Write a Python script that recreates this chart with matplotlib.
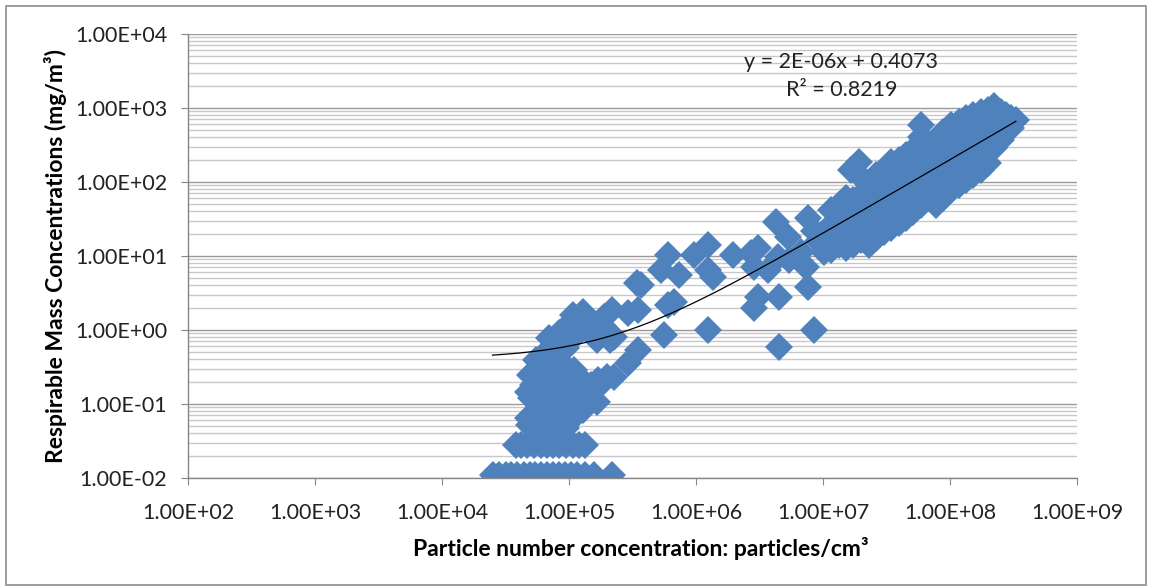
import numpy as np
import matplotlib
matplotlib.use("Agg")
from matplotlib import pyplot as plt
from matplotlib.ticker import LogLocator, FuncFormatter, NullFormatter
from matplotlib.patches import Rectangle

plt.rcParams['font.family'] = ['Lato', 'DejaVu Sans']

# trend line printed on the chart
TREND_SLOPE = 2e-06
TREND_INTERCEPT = 0.4073
R_SQUARED = 0.8219

# points sitting on the detection floor
floor_x = [2.5e4, 2.8e4, 3.2e4, 3.5e4, 3.9e4, 4.4e4, 4.9e4, 5.4e4, 6.0e4, 6.7e4,
           7.5e4, 8.3e4, 9.3e4, 1.04e5, 1.16e5, 1.34e5, 1.57e5, 2.2e5]
floor_y = [0.011, 0.011, 0.011, 0.011, 0.011, 0.011, 0.011, 0.011, 0.011, 0.011,
           0.011, 0.011, 0.011, 0.011, 0.011, 0.011, 0.011, 0.011]

row2_x = [3.8e4, 4.2e4, 4.7e4, 5.3e4, 6.0e4, 6.7e4, 7.5e4, 8.3e4, 9.4e4, 1.07e5, 1.2e5, 1.34e5]
row2_y = [0.028, 0.028, 0.028, 0.028, 0.028, 0.028, 0.028, 0.028, 0.028, 0.028, 0.028, 0.028]

# low-number column, 5e4 - 1e5
low_x = [4.8e4, 6.0e4, 7.5e4, 9.5e4, 5.4e4, 7.0e4, 8.6e4, 1.07e5, 5.0e4, 6.5e4,
         8.1e4, 9.6e4, 5.2e4, 6.7e4, 8.3e4, 5.8e4, 7.5e4, 9.3e4, 5.5e4, 7.0e4,
         8.6e4, 6.6e4, 4.75e4, 4.75e4, 4.9e4, 6.2e4, 7.8e4, 5.6e4, 7.2e4, 9.0e4,
         6.2e4, 8.0e4, 6.4e4, 8.0e4, 9.8e4, 9.0e4, 6.6e4,
         1.24e5, 1.49e5, 1.41e5, 1.29e5, 1.66e5, 1.69e5, 2.26e5, 2.9e5, 3.5e5,
         2.1e5, 1.09e5, 1.15e5, 2.0e5, 1.69e5]
low_y = [0.052, 0.047, 0.052, 0.047, 0.078, 0.071, 0.083, 0.065, 0.12, 0.113,
         0.13, 0.106, 0.18, 0.164, 0.2, 0.27, 0.29, 0.25, 0.39, 0.42,
         0.37, 0.5, 0.065, 0.145, 0.25, 0.095, 0.1, 0.14, 0.15, 0.16,
         0.22, 0.23, 0.33, 0.34, 0.2, 0.062, 0.058,
         0.22, 0.18, 0.12, 0.083, 0.106, 0.21, 0.23, 0.36, 0.54,
         0.73, 0.29, 0.14, 0.23, 0.17]

# group around 1 mg/m3
one_x = [1.07e5, 1.29e5, 2.2e5, 1.89e5, 3.5e5, 8.3e4, 1.09e5, 1.89e5, 2.26e5, 2.9e5,
         7.6e4, 9.5e4, 1.49e5, 7.0e4, 1.66e5, 1.2e5, 1.0e5]
one_y = [1.6, 1.75, 1.86, 1.5, 1.86, 0.91, 0.8, 1.1, 0.8, 1.7,
         0.67, 0.57, 1.17, 0.78, 0.73, 1.0, 1.2]

# middle range, 3e5 - 1e7
mid_x = [3.7e5, 3.4e5, 5.3e5, 6.0e5, 7.3e5, 6.0e5, 6.7e5, 5.6e5, 9.6e5, 1.24e6,
         1.24e6, 1.36e6, 1.24e6, 1.95e6, 2.7e6, 3.1e6, 2.86e6, 3.7e6, 4.3e6, 4.4e6,
         5.3e6, 5.4e6, 6.7e6, 7.6e6, 8.5e6, 7.3e6, 7.6e6, 3.1e6, 2.86e6, 4.5e6,
         8.5e6, 4.5e6, 9.1e6, 1.02e7]
mid_y = [4.1, 4.3, 6.5, 10.3, 5.5, 2.2, 2.4, 0.86, 10.3, 14,
         6.5, 5.2, 1.0, 10.3, 11, 12.8, 7.1, 6.5, 28.8, 9.7,
         18, 8.8, 11.3, 33, 22, 7.1, 3.8, 2.8, 2.0, 2.8,
         1.0, 0.59, 16, 11.3]

# dense high band, 1e7 - 3.3e8
high_x = [1.16e7, 1.16e7, 1.16e7, 1.16e7,
          1.34e7, 1.34e7, 1.34e7, 1.34e7,
          1.52e7, 1.52e7, 1.52e7, 1.52e7,
          1.72e7, 1.72e7, 1.72e7, 1.72e7,
          1.66e7, 1.92e7, 2.1e7,
          1.99e7, 1.99e7, 1.99e7, 1.99e7,
          2.3e7, 2.3e7, 2.3e7, 2.3e7, 2.3e7,
          2.61e7, 2.61e7, 2.61e7, 2.61e7, 2.61e7,
          3.0e7, 3.0e7, 3.0e7, 3.0e7, 3.0e7,
          3.43e7, 3.43e7, 3.43e7, 3.43e7, 3.43e7,
          3.96e7, 3.96e7, 3.96e7, 3.96e7, 3.96e7,
          4.5e7, 4.5e7, 4.5e7, 4.5e7, 4.5e7,
          5.1e7, 5.1e7, 5.1e7, 5.1e7, 5.1e7,
          5.9e7, 5.9e7, 5.9e7, 5.9e7, 5.9e7, 5.9e7,
          6.8e7, 6.8e7, 6.8e7, 6.8e7,
          7.8e7, 7.8e7, 7.8e7, 7.8e7, 7.8e7,
          8.8e7, 8.8e7, 8.8e7, 8.8e7, 8.8e7,
          1.02e8, 1.02e8, 1.02e8, 1.02e8, 1.02e8,
          1.18e8, 1.18e8, 1.18e8, 1.18e8, 1.18e8,
          1.34e8, 1.34e8, 1.34e8, 1.34e8, 1.34e8,
          1.52e8, 1.52e8, 1.52e8, 1.52e8, 1.52e8,
          1.75e8, 1.75e8, 1.75e8, 1.75e8, 1.75e8,
          1.99e8, 1.99e8, 1.99e8, 1.99e8, 1.99e8,
          2.22e8, 2.22e8, 2.22e8, 2.22e8,
          2.52e8, 2.52e8, 2.52e8,
          2.76e8, 2.76e8,
          3.0e8, 3.0e8,
          3.3e8]
high_y = [42, 26, 16.4, 12,
          49, 30.6, 21, 14,
          61, 39, 24, 13,
          57, 35.8, 19.2, 14,
          145, 186, 106,
          67, 42, 26, 16.4,
          91, 57, 35.8, 21, 14,
          124, 78, 49, 28, 17.5,
          145, 91, 57, 35.8, 21,
          186, 113, 67, 42, 24,
          198, 124, 78, 49, 28,
          232, 155, 91, 57, 33,
          270, 170, 106, 67, 39,
          590, 400, 232, 140, 78, 49,
          316, 198, 113, 67,
          370, 232, 145, 84, 49,
          470, 290, 170, 100, 61,
          590, 370, 232, 140, 78,
          640, 400, 255, 155, 91,
          740, 470, 290, 170, 106,
          800, 540, 316, 198, 124,
          870, 590, 370, 232, 145,
          940, 640, 432, 270, 180,
          1060, 740, 470, 290,
          870, 590, 370,
          800, 505,
          740, 540,
          690]

x = np.array(floor_x + row2_x + low_x + one_x + mid_x + high_x)
y = np.array(floor_y + row2_y + low_y + one_y + mid_y + high_y)

fig = plt.figure(figsize=(11.52, 5.88), dpi=100)
fig.patches.append(Rectangle((0.005, 0.005), 0.99, 0.985, transform=fig.transFigure,
                             fill=False, edgecolor='#8c8c8c', linewidth=1.2))
ax = fig.add_axes([0.1632, 0.1871, 0.7717, 0.7551])

ax.plot(x, y, linestyle='none', marker='D', markersize=14,
        color='#4f81bd', markeredgewidth=0)

# linear trend line as printed, drawn on the log axes
xt = np.geomspace(x.min(), x.max(), 300)
ax.plot(xt, TREND_SLOPE * xt + TREND_INTERCEPT, color='black', linewidth=0.9)

ax.set_xscale('log')
ax.set_yscale('log')
ax.set_xlim(1e2, 1e9)
ax.set_ylim(1e-2, 1e4)

fmt = FuncFormatter(lambda v, p: '%.2E' % v)
ax.xaxis.set_major_locator(LogLocator(base=10, numticks=20))
ax.yaxis.set_major_locator(LogLocator(base=10, numticks=20))
ax.yaxis.set_minor_locator(LogLocator(base=10, subs=np.arange(2, 10), numticks=20))
ax.xaxis.set_minor_locator(LogLocator(base=10, subs=[], numticks=20))
ax.xaxis.set_major_formatter(fmt)
ax.yaxis.set_major_formatter(fmt)
ax.yaxis.set_minor_formatter(NullFormatter())
ax.xaxis.set_minor_formatter(NullFormatter())

ax.grid(which='major', axis='y', color='#9a9a9a', linewidth=1.0)
ax.grid(which='minor', axis='y', color='#c8c8c8', linewidth=1.0)
ax.set_axisbelow(True)

for s in ['top', 'right']:
    ax.spines[s].set_visible(False)
for s in ['left', 'bottom']:
    ax.spines[s].set_color('#868686')
    ax.spines[s].set_linewidth(1.0)

ax.tick_params(axis='both', which='major', length=5, color='#868686',
               labelsize=15.5, labelcolor='#222222')
ax.tick_params(axis='y', which='major', pad=10)
ax.tick_params(axis='x', which='major', pad=13)
ax.tick_params(axis='both', which='minor', length=0)

fig.text(0.556, 0.068, 'Particle number concentration: particles/cm³',
         ha='center', va='center', fontsize=16.5, fontweight='bold')
fig.text(0.048, 0.565, 'Respirable Mass Concentrations (mg/m³)',
         ha='center', va='center', rotation=90, fontsize=16.5, fontweight='bold')

fig.text(841 / 1152, 1 - 62 / 588, 'y = 2E-06x + %.4f' % TREND_INTERCEPT,
         ha='center', va='center', fontsize=15.5, color='#222222')
fig.text(842 / 1152, 1 - 90 / 588, 'R² = %.4f' % R_SQUARED,
         ha='center', va='center', fontsize=15.5, color='#222222')

fig.savefig('out.png', dpi=100)
